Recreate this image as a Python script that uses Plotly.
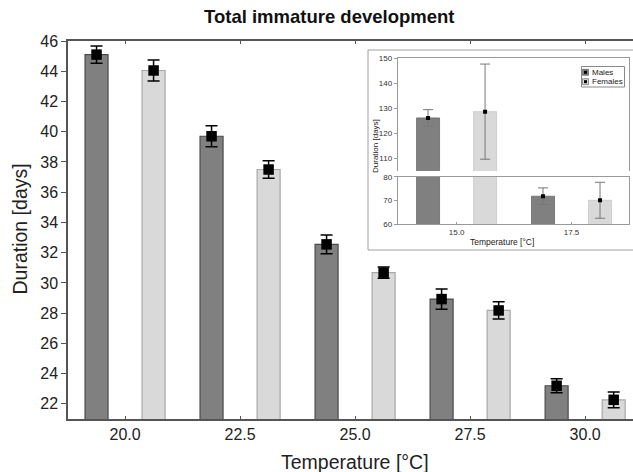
import plotly.graph_objects as go

# ---- data ----
temps_main = [20.0, 22.5, 25.0, 27.5, 30.0]
males_main = [45.1, 39.7, 32.55, 28.93, 23.2]
males_main_err = [0.57, 0.7, 0.62, 0.67, 0.47]
females_main = [44.05, 37.5, 30.68, 28.18, 22.27]
females_main_err = [0.7, 0.58, 0.37, 0.57, 0.52]

temps_inset = [15.0, 17.5]
males_inset = [126.2, 71.8]
males_inset_err = [3.3, 3.5]
females_inset = [128.7, 70.1]
females_inset_err = [19.0, 7.55]

main_ticks = ["20.0", "22.5", "25.0", "27.5", "30.0"]
inset_ticks = ["15.0", "17.5"]
legend_names = ["Males", "Females"]

# ---- style ----
W, H = 633, 472
L, R, T, B = 68, 0, 41, 53
PW, PH = W - L - R, H - T - B

def px_x(px):
    return (px - L) / PW

def px_y(py):
    return (H - B - py) / PH

SHIFT = 0.62
BW = 0.5
M_FILL, M_LINE = "#808080", "#4a4a4a"
F_FILL, F_LINE = "#d9d9d9", "#a8a8a8"
FONT = "Liberation Sans, Arial, sans-serif"

fig = go.Figure()

def add_series(xa, ya, vals, errs, temps, sign, fill, line, msize, ecol, ethick, ewidth, lw):
    fig.add_trace(go.Bar(x=temps, y=vals, offset=sign * SHIFT - BW / 2, width=BW,
                         marker=dict(color=fill, line=dict(color=line, width=lw)),
                         xaxis=xa, yaxis=ya, showlegend=False, hoverinfo="skip"))
    fig.add_trace(go.Scatter(x=[t + sign * SHIFT for t in temps], y=vals, mode="markers",
                             marker=dict(symbol="square", size=msize, color="black"),
                             error_y=dict(type="data", array=errs, color=ecol,
                                          thickness=ethick, width=ewidth),
                             xaxis=xa, yaxis=ya, showlegend=False, hoverinfo="skip"))

# main
add_series("x", "y", males_main, males_main_err, temps_main, -1, M_FILL, M_LINE, 10.5, "black", 1.5, 6, 1.2)
add_series("x", "y", females_main, females_main_err, temps_main, 1, F_FILL, F_LINE, 10.5, "black", 1.5, 6, 1.2)
# inset upper + lower panels
for xa, ya in (("x2", "y2"), ("x3", "y3")):
    add_series(xa, ya, males_inset, males_inset_err, temps_inset, -1, M_FILL, "#6a6a6a", 4, "#777777", 1, 5, 0.8)
    add_series(xa, ya, females_inset, females_inset_err, temps_inset, 1, F_FILL, "#c8c8c8", 4, "#777777", 1, 5, 0.8)

AX = "#555555"
IAX = "#9a9a9a"
ix0, ix1 = px_x(397.7), px_x(629)

shapes = [dict(type="rect", xref="paper", yref="paper", layer="below",
               x0=px_x(368), x1=px_x(640), y0=px_y(250), y1=px_y(50),
               line=dict(color="#a0a0a0", width=1), fillcolor="white")]
annotations = [
    dict(text="<b>Total immature development</b>", xref="paper", yref="paper",
         x=px_x(329), y=px_y(16), xanchor="center", yanchor="middle",
         showarrow=False, font=dict(size=18.5, color="#111")),
    dict(text="Duration [days]", xref="paper", yref="paper", textangle=-90,
         x=px_x(19), y=px_y(229.5), xanchor="center", yanchor="middle",
         showarrow=False, font=dict(size=19.5, color="#222")),
    dict(text="Temperature [°C]", xref="paper", yref="paper",
         x=px_x(355), y=px_y(462), xanchor="center", yanchor="middle",
         showarrow=False, font=dict(size=19.5, color="#222")),
    dict(text="Duration [days]", xref="paper", yref="paper", textangle=-90,
         x=px_x(375), y=px_y(146), xanchor="center", yanchor="middle",
         showarrow=False, font=dict(size=8, color="#222")),
    dict(text="Temperature [°C]", xref="paper", yref="paper",
         x=px_x(502), y=px_y(241.5), xanchor="center", yanchor="middle",
         showarrow=False, font=dict(size=8.5, color="#222")),
]

# manual compact legend for inset
shapes.append(dict(type="rect", xref="paper", yref="paper", layer="above",
                   x0=px_x(581.5), x1=px_x(624.5), y0=px_y(87), y1=px_y(66.5),
                   line=dict(color="#888888", width=1), fillcolor="white"))
for i, (name, fill) in enumerate(zip(legend_names, [M_FILL, F_FILL])):
    cy = 72.3 + i * 9.4
    shapes.append(dict(type="rect", xref="paper", yref="paper", layer="above",
                       x0=px_x(582.5), x1=px_x(588.5), y0=px_y(cy + 3), y1=px_y(cy - 3),
                       line=dict(color="#555555", width=0.6), fillcolor=fill))
    shapes.append(dict(type="rect", xref="paper", yref="paper", layer="above",
                       x0=px_x(584), x1=px_x(587), y0=px_y(cy + 1.5), y1=px_y(cy - 1.5),
                       line=dict(width=0), fillcolor="black"))
    annotations.append(dict(text=name, xref="paper", yref="paper",
                            x=px_x(589.5), y=px_y(cy), xanchor="left", yanchor="middle",
                            showarrow=False, font=dict(size=8, color="#222")))

fig.update_layout(
    width=W, height=H, margin=dict(l=L, r=R, t=T, b=B, autoexpand=False),
    paper_bgcolor="white", plot_bgcolor="rgba(0,0,0,0)",
    barmode="overlay", showlegend=False,
    font=dict(family=FONT, color="#222222"),
    xaxis=dict(range=[18.76, 31.04], tickvals=temps_main, ticktext=main_ticks,
               showline=True, linecolor=AX, linewidth=1.5, mirror="ticks",
               ticks="inside", ticklen=3, tickcolor=AX, showgrid=False, zeroline=False,
               tickfont=dict(size=16, color="#222")),
    yaxis=dict(range=[21, 46], dtick=2, showline=True, linecolor=AX, linewidth=1.5,
               ticks="outside", ticklen=5, tickcolor=AX, showgrid=False, zeroline=False,
               tickfont=dict(size=16, color="#222")),
    xaxis2=dict(domain=[ix0, ix1], anchor="y2", range=[13.72, 18.75], side="top",
                showline=True, linecolor=IAX, linewidth=1, showticklabels=False,
                ticks="", showgrid=False, zeroline=False),
    yaxis2=dict(domain=[px_y(171), px_y(58.3)], anchor="x2", range=[105, 150],
                tickvals=[110, 120, 130, 140, 150],
                showline=True, linecolor=IAX, linewidth=1, mirror=True,
                ticks="outside", ticklen=3, tickcolor=IAX, showgrid=False, zeroline=False,
                tickfont=dict(size=8, color="#333")),
    xaxis3=dict(domain=[ix0, ix1], anchor="y3", range=[13.72, 18.75],
                tickvals=temps_inset, ticktext=inset_ticks,
                showline=True, linecolor=IAX, linewidth=1, mirror=True,
                ticks="inside", ticklen=2, tickcolor=IAX, showgrid=False, zeroline=False,
                tickfont=dict(size=8, color="#333")),
    yaxis3=dict(domain=[px_y(224.3), px_y(176.7)], anchor="x3", range=[60, 80],
                tickvals=[60, 70, 80],
                showline=True, linecolor=IAX, linewidth=1, mirror=True,
                ticks="outside", ticklen=3, tickcolor=IAX, showgrid=False, zeroline=False,
                tickfont=dict(size=8, color="#333")),
    shapes=shapes,
    annotations=annotations,
)

fig.write_html("out.html")
